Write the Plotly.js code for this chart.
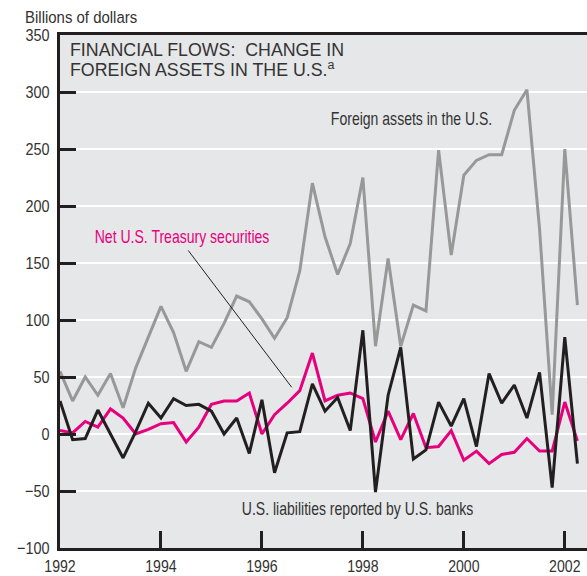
<!DOCTYPE html>
<html>
<head>
<meta charset="utf-8">
<script src="https://cdn.plot.ly/plotly-3.0.1.min.js"></script>
<style>html,body{margin:0;padding:0;background:#fff;}#chart{width:587px;height:576px;}</style>
</head>
<body>
<div id="chart"></div>
<script>
// Quarterly observations, 1992 Q1 – 2002 Q2
var quarters = [
  "1992Q1","1992Q2","1992Q3","1992Q4","1993Q1","1993Q2","1993Q3","1993Q4",
  "1994Q1","1994Q2","1994Q3","1994Q4","1995Q1","1995Q2","1995Q3","1995Q4",
  "1996Q1","1996Q2","1996Q3","1996Q4","1997Q1","1997Q2","1997Q3","1997Q4",
  "1998Q1","1998Q2","1998Q3","1998Q4","1999Q1","1999Q2","1999Q3","1999Q4",
  "2000Q1","2000Q2","2000Q3","2000Q4","2001Q1","2001Q2","2001Q3","2001Q4",
  "2002Q1","2002Q2"
];
// Foreign assets in the U.S. (billions of dollars)
var foreignAssets = [
  55, 29, 50, 34, 53, 23, 58, 85,
  112, 89, 55, 81, 76, 97, 121, 116,
  101, 84, 102, 143, 220, 173, 140, 167,
  225, 77, 154, 77, 113, 108, 249, 157,
  227, 240, 245, 245, 284, 302, 180, 17,
  250, 113
];
// Net U.S. Treasury securities
var treasury = [
  3, 1, 11, 6, 22, 14, 0, 4,
  9, 10, -7, 6, 26, 29, 29, 36,
  0, 17, 27, 38, 71, 29, 34, 36,
  31, -7, 20, -5, 18, -12, -11, 3,
  -23, -15, -26, -18, -16, -4, -15, -15,
  28, -6
];
// U.S. liabilities reported by U.S. banks
var bankLiab = [
  29, -5, -4, 21, 0, -21, 2, 27,
  14, 31, 25, 26, 20, 0, 14, -17,
  30, -34, 1, 2, 44, 20, 32, 3,
  91, -51, 34, 76, -22, -14, 28, 7,
  31, -11, 53, 27, 43, 14, 54, -47,
  85, -26
];
var xTickVals = [1992, 1994, 1996, 1998, 2000, 2002];
var xTickText = ["1992", "1994", "1996", "1998", "2000", "2002"];

function qToNum(q) {
  var y = parseInt(q.slice(0, 4), 10);
  var n = parseInt(q.slice(5), 10);
  return y + (n - 1) / 4;
}
var xs = quarters.map(qToNum);

var sans = "Liberation Sans, Arial, Helvetica, sans-serif";
var ink = "#231f20";
var txt = "#333333";

var traces = [
  {x: xs, y: foreignAssets, type: "scatter", mode: "lines",
   line: {color: "#989898", width: 3}, hoverinfo: "skip"},
  {x: xs, y: treasury, type: "scatter", mode: "lines",
   line: {color: "#e6007e", width: 3}, hoverinfo: "skip"},
  {x: xs, y: bankLiab, type: "scatter", mode: "lines",
   line: {color: ink, width: 3}, hoverinfo: "skip"}
];

// pixel helpers for paper-referenced annotations
var L = 60, T = 35, W = 527, H = 513;
function px(p) { return (p - L) / W; }
function py(p) { return (T + H - p) / H; }

var layout = {
  width: 587, height: 576,
  margin: {l: 60, r: 0, t: 35, b: 28, pad: 0},
  paper_bgcolor: "#ffffff",
  plot_bgcolor: "#e6e7e8",
  showlegend: false,
  xaxis: {
    range: [1992, 2002.44],
    tickvals: xTickVals, ticktext: xTickText,
    ticks: "inside", ticklen: 17, tickwidth: 3, tickcolor: ink,
    showgrid: false, zeroline: false,
    showline: true, linecolor: ink, linewidth: 3, mirror: true,
    tickfont: {family: sans, size: 17, color: txt},
    ticklabelstandoff: 1,
    fixedrange: true
  },
  yaxis: {
    range: [-100, 350], dtick: 50,
    ticks: "inside", ticklen: 16, tickwidth: 3, tickcolor: ink,
    showgrid: true, gridcolor: "#ffffff", gridwidth: 2.5,
    zeroline: false,
    showline: true, linecolor: ink, linewidth: 3,
    tickfont: {family: sans, size: 17, color: txt},
    ticklabelstandoff: 4,
    fixedrange: true
  },
  shapes: [
    {type: "line", xref: "x", yref: "y",
     x0: 1994.54, y0: 161, x1: 1996.59, y1: 41,
     line: {color: ink, width: 1}}
  ],
  annotations: [
    {xref: "paper", yref: "paper", x: px(23), y: py(18),
     xanchor: "left", yanchor: "middle", showarrow: false,
     text: "Billions of dollars",
     font: {family: sans, size: 17, color: txt}},
    {xref: "paper", yref: "paper", x: px(68), y: py(50),
     xanchor: "left", yanchor: "middle", showarrow: false,
     text: "FINANCIAL FLOWS:\u00a0\u00a0CHANGE IN",
     font: {family: sans, size: 17.8, color: txt}},
    {xref: "paper", yref: "paper", x: px(68), y: py(69),
     xanchor: "left", yanchor: "middle", showarrow: false,
     text: "FOREIGN ASSETS IN THE U.S.<sup>a</sup>",
     font: {family: sans, size: 17.8, color: txt}},
    {xref: "x", yref: "y", x: 1998.97, y: 276, showarrow: false,
     text: "Foreign assets in the U.S.",
     font: {family: sans, size: 18, color: txt}},
    {xref: "x", yref: "y", x: 1994.42, y: 173, showarrow: false,
     text: "Net U.S. Treasury securities",
     font: {family: sans, size: 18, color: "#e6007e"}},
    {xref: "x", yref: "y", x: 1997.9, y: -66, showarrow: false,
     text: "U.S. liabilities reported by U.S. banks",
     font: {family: sans, size: 18, color: txt}}
  ]
};

// horizontally condense a text element about an anchor (keeps it real text)
function squeeze(el, s, anchor) {
  var bb = el.getBBox();
  var cx = anchor === "left" ? bb.x : (anchor === "right" ? bb.x + bb.width : bb.x + bb.width / 2);
  var t = el.getAttribute("transform") || "";
  el.setAttribute("transform", t + " translate(" + cx + ",0) scale(" + s + ",1) translate(" + (-cx) + ",0)");
}

Plotly.newPlot("chart", traces, layout, {staticPlot: true, displayModeBar: false}).then(function (gd) {
  gd.querySelectorAll(".ytick text").forEach(function (el) { squeeze(el, 0.85, "right"); });
  gd.querySelectorAll(".xtick text").forEach(function (el) { squeeze(el, 0.83, "center"); });
  var ann = gd.querySelectorAll(".annotation-text");
  if (ann[0]) squeeze(ann[0], 0.88, "left");
  for (var i = 3; i < ann.length; i++) squeeze(ann[i], 0.78, "center");
});
</script>
</body>
</html>
